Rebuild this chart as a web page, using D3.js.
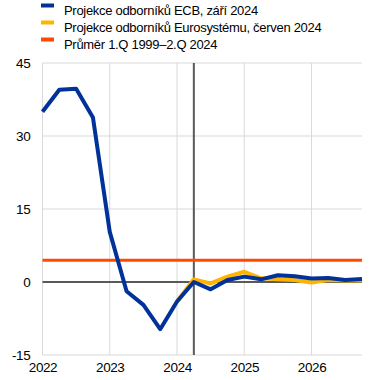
<!DOCTYPE html>
<html><head><meta charset="utf-8">
<script src="https://cdn.jsdelivr.net/npm/d3@7"></script>
<style>body{margin:0;background:#fff}svg{display:block;font-family:Arial,"Liberation Sans",sans-serif}</style>
</head><body><svg id="c" width="391" height="380"></svg>
<script>
const periods = [2022.0,2022.25,2022.5,2022.75,2023.0,2023.25,2023.5,2023.75,2024.0,2024.25,2024.5,2024.75,2025.0,2025.25,2025.5,2025.75,2026.0,2026.25,2026.5,2026.75];
const ecbSep2024 = [35.0,39.5,39.7,33.8,10.3,-1.9,-4.7,-9.7,-4.0,0.0,-1.5,0.4,1.1,0.55,1.4,1.2,0.7,0.8,0.4,0.6];
const eurosystemJun2024 = [null,null,null,null,null,null,null,null,-4.0,0.55,-0.3,1.1,2.1,0.75,0.55,0.4,-0.1,0.4,0.3,0.3];
const averageValue = 4.45;
const projectionStart = 2024.25;
const yTicks = [-15,0,15,30,45];
const xTicks = [2022,2023,2024,2025,2026];
const legendLabels = ["Projekce odborníků ECB, září 2024","Projekce odborníků Eurosystému, červen 2024","Průměr 1.Q 1999–2.Q 2024"];
const colors = ["#003299","#ffb400","#ff4b00"];

const svg = d3.select("#c");
const L=42.5, R=362, T=63, B=355;
const x = d3.scaleLinear().domain([2022,2026.75]).range([L,R]);
const y = d3.scaleLinear().domain([-15,45]).range([B,T]);

svg.append("g").selectAll("line").data(yTicks.filter(d=>d!==0)).join("line")
  .attr("x1",L).attr("x2",R).attr("y1",d=>y(d)).attr("y2",d=>y(d))
  .attr("stroke","#d9d9d9").attr("stroke-width",1);
svg.append("g").selectAll("line").data(xTicks).join("line")
  .attr("x1",d=>x(d)).attr("x2",d=>x(d)).attr("y1",T).attr("y2",B)
  .attr("stroke","#d9d9d9").attr("stroke-width",1);

svg.append("line").attr("x1",L).attr("x2",R).attr("y1",y(0)).attr("y2",y(0))
  .attr("stroke","#595959").attr("stroke-width",2);
svg.append("line").attr("x1",x(projectionStart)).attr("x2",x(projectionStart)).attr("y1",T).attr("y2",B)
  .attr("stroke","#595959").attr("stroke-width",2);

svg.append("line").attr("x1",L).attr("x2",R).attr("y1",y(averageValue)).attr("y2",y(averageValue))
  .attr("stroke",colors[2]).attr("stroke-width",3);

const line = d3.line().defined(d=>d[1]!=null).x(d=>x(d[0])).y(d=>y(d[1]));
svg.append("path").datum(periods.map((p,i)=>[p,eurosystemJun2024[i]]))
  .attr("d",line).attr("fill","none").attr("stroke",colors[1]).attr("stroke-width",4).attr("stroke-linejoin","round");
svg.append("path").datum(periods.map((p,i)=>[p,ecbSep2024[i]]))
  .attr("d",line).attr("fill","none").attr("stroke",colors[0]).attr("stroke-width",4).attr("stroke-linejoin","round");

const yAxis = d3.axisLeft(y).tickValues(yTicks).tickFormat(d=>String(d)).tickSize(0).tickPadding(12);
const gy = svg.append("g").attr("transform",`translate(${L},0)`).call(yAxis);
gy.select(".domain").remove();
gy.selectAll("text").attr("font-size",13.5).attr("letter-spacing",-0.3).attr("fill","#000").attr("font-family","Arial,'Liberation Sans',sans-serif");

const xAxis = d3.axisBottom(x).tickValues(xTicks).tickFormat(d3.format("d")).tickSize(0).tickPadding(7);
const gx = svg.append("g").attr("transform",`translate(0,${B})`).call(xAxis);
gx.select(".domain").remove();
gx.selectAll("text").attr("font-size",13.5).attr("letter-spacing",-0.4).attr("fill","#000").attr("font-family","Arial,'Liberation Sans',sans-serif");

const lg = svg.append("g");
legendLabels.forEach((t,i)=>{
  const yy = 5 + i*17;
  lg.append("rect").attr("x",41).attr("y",yy-1.5).attr("width",13).attr("height",4).attr("fill",colors[i]);
  lg.append("text").attr("x",64).attr("y",yy+10).attr("font-size",13).attr("letter-spacing",-0.3).attr("fill","#000").text(t);
});
</script></body></html>
